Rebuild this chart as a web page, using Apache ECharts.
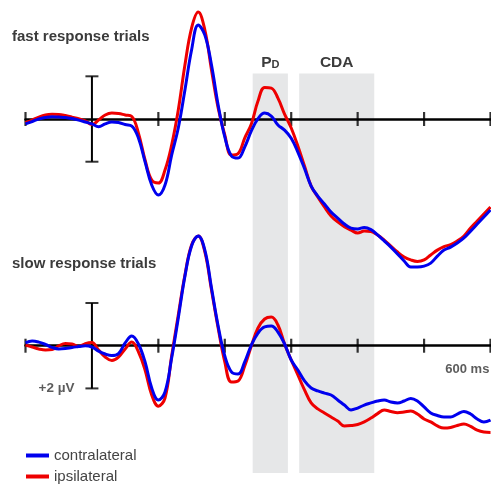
<!DOCTYPE html>
<html>
<head>
<meta charset="utf-8">
<script src="https://cdn.jsdelivr.net/npm/echarts@6/dist/echarts.min.js"></script>
<style>
html,body{margin:0;padding:0;background:#fff;}
#chart{width:491px;height:485px;}
</style>
</head>
<body>
<div id="chart"></div>
<script>
// time points (ms)
const TIMES = [-100,-90,-80,-70,-60,-50,-40,-30,-20,-10,0,10,20,30,40,50,60,70,80,90,100,110,120,130,140,150,160,170,180,190,200,210,220,230,240,250,260,270,280,290,300,310,320,330,340,350,360,370,380,390,400,410,420,430,440,450,460,470,480,490,500,510,520,530,540,550,560,570,580,590,600];

// fast response trials (µV, negative plotted up)
const FAST_IPSI = [0.17,0.05,-0.09,-0.19,-0.22,-0.21,-0.16,-0.09,-0.02,0.09,0.26,0.05,-0.19,-0.28,-0.26,-0.19,-0.12,0.66,1.92,2.86,3.00,2.39,1.22,-0.42,-2.53,-4.26,-5.01,-4.17,-2.30,-0.52,0.75,1.69,1.62,0.89,0.23,-0.84,-1.48,-1.45,-0.98,-0.23,0.42,1.26,2.20,3.14,3.65,4.12,4.54,4.82,5.04,5.20,5.34,5.25,5.27,5.43,5.67,5.95,6.23,6.46,6.60,6.67,6.60,6.37,6.14,5.98,5.88,5.71,5.48,5.11,4.78,4.45,4.12];
const FAST_CONTRA = [0.23,0.12,0,-0.07,-0.11,-0.09,-0.07,-0.02,0.05,0.14,0.23,0.36,0.23,0.14,0.16,0.26,0.33,0.89,2.01,3.09,3.56,3.09,1.69,0.42,-1.36,-3.23,-4.40,-3.93,-2.53,-0.66,0.84,1.73,1.83,1.31,0.56,-0.02,-0.28,-0.14,0.28,0.52,0.90,1.55,2.32,3.14,3.61,3.98,4.36,4.64,4.92,5.11,5.15,5.08,5.18,5.43,5.71,6.00,6.32,6.65,6.93,6.93,6.89,6.75,6.42,6.14,6.00,5.81,5.57,5.25,4.92,4.59,4.26];

// slow response trials
const SLOW_IPSI = [-0.03,0.06,0.15,0.20,0.18,0.01,-0.10,-0.08,0.04,-0.10,-0.15,0.20,0.53,0.69,0.53,0.15,-0.17,0.29,1.14,2.31,2.83,2.45,0.48,-1.44,-3.31,-4.72,-5.14,-4.39,-2.61,-0.83,0.76,1.70,1.65,0.95,0.01,-0.83,-1.25,-1.34,-0.97,-0.08,0.67,1.37,2.07,2.68,2.96,3.15,3.34,3.53,3.76,3.74,3.69,3.57,3.39,3.18,3.01,3.08,3.14,3.11,3.06,3.20,3.43,3.57,3.76,3.86,3.83,3.74,3.67,3.78,3.95,4.04,4.06];
const SLOW_CONTRA = [-0.13,-0.22,-0.17,-0.06,0.08,0.15,0.13,0.08,0.04,0,0.06,0.25,0.39,0.46,0.37,-0.13,-0.45,-0.08,0.76,1.98,2.54,2.17,0.58,-1.30,-3.26,-4.67,-5.14,-4.48,-2.70,-0.92,0.48,1.23,1.33,0.76,-0.03,-0.59,-0.88,-0.92,-0.64,-0.08,0.67,1.14,1.65,1.98,2.12,2.22,2.31,2.54,2.78,3.01,2.92,2.78,2.68,2.59,2.54,2.64,2.68,2.59,2.47,2.59,2.87,3.15,3.27,3.34,3.34,3.20,3.08,3.20,3.43,3.57,3.48];

const TICKS = [-100, 100, 200, 300, 400, 500, 600];
const SCALE_BAR = [-2, 2];          // µV
const PD_WINDOW = [242, 295];       // ms
const CDA_WINDOW = [312, 425];      // ms
const BAND_RANGE = [-2.13, 16.58];  // vertical extent in top-panel µV units

const FONT = "'Liberation Sans', Arial, sans-serif";
const BLUE = '#0000ee';
const RED = '#ee0000';

function pairs(vals) { return TIMES.map((t, i) => [t, vals[i]]); }

function lineSeries(name, vals, color, idx, extra) {
  return Object.assign({
    type: 'line', name: name, xAxisIndex: idx, yAxisIndex: idx,
    data: pairs(vals), smooth: 0.4, showSymbol: false, silent: true, z: 3,
    lineStyle: { color: color, width: 3 }, itemStyle: { color: color }
  }, extra || {});
}

function tickSeries(idx, lastLabel) {
  return {
    type: 'scatter', xAxisIndex: idx, yAxisIndex: idx, silent: true, z: 2,
    symbol: 'rect', symbolSize: [2.2, 14], itemStyle: { color: '#000' },
    data: TICKS.map((t, i) => {
      const item = { value: [t, 0] };
      if (lastLabel && i === TICKS.length - 1) {
        item.label = { show: true, formatter: lastLabel, position: [0, 31], align: 'right', verticalAlign: 'middle',
          fontFamily: FONT, fontWeight: 'bold', fontSize: 13, color: '#333' };
      }
      return item;
    })
  };
}

function barSeries(idx, withLabel) {
  return [
    { type: 'line', xAxisIndex: idx, yAxisIndex: idx, silent: true, z: 2, showSymbol: false,
      data: SCALE_BAR.map(v => [0, v]), lineStyle: { color: '#000', width: 2 } },
    { type: 'scatter', xAxisIndex: idx, yAxisIndex: idx, silent: true, z: 2,
      symbol: 'rect', symbolSize: [13, 2], itemStyle: { color: '#000' },
      data: SCALE_BAR.map((v, i) => {
        const item = { value: [0, v] };
        if (withLabel && i === SCALE_BAR.length - 1) {
          item.label = { show: true, formatter: '+' + v + ' µV', position: 'left', distance: 11,
            fontFamily: FONT, fontWeight: 'bold', fontSize: 13.5, color: '#333' };
        }
        return item;
      }) }
  ];
}

const labelStyle = { fontFamily: FONT, fontWeight: 'bold', color: '#3b3b3b' };

const option = {
  animation: false,
  backgroundColor: '#fff',
  title: [
    { text: 'fast response trials', left: 12, top: 29, padding: 0,
      textStyle: Object.assign({ fontSize: 15 }, labelStyle) },
    { text: 'slow response trials', left: 12, top: 256, padding: 0,
      textStyle: Object.assign({ fontSize: 15 }, labelStyle) }
  ],
  legend: {
    data: ['contralateral', 'ipsilateral'], orient: 'vertical', left: 26, top: 448, padding: 0,
    icon: 'rect', itemWidth: 23, itemHeight: 4, itemGap: 6,
    textStyle: { fontFamily: FONT, fontSize: 15, color: '#444' }
  },
  grid: [
    { left: 25.5, width: 465, top: 1.58, height: 480.4 },
    { left: 25.5, width: 465, top: 228.3, height: 245.5 }
  ],
  xAxis: [0, 1].map(i => ({
    type: 'value', gridIndex: i, min: -100, max: 600, z: 2,
    axisLine: { show: true, onZero: true, lineStyle: { color: '#000', width: 2.5 } },
    axisTick: { show: false }, axisLabel: { show: false }, splitLine: { show: false }
  })),
  yAxis: [
    { type: 'value', gridIndex: 0, min: -5.5, max: 17, inverse: true, show: false, splitLine: { show: false } },
    { type: 'value', gridIndex: 1, min: -5.5, max: 6, inverse: true, show: false, splitLine: { show: false } }
  ],
  series: [
    lineSeries('ipsilateral', FAST_IPSI, RED, 0, {
      markArea: {
        silent: true, z: 1,
        itemStyle: { color: '#e6e7e8' },
        label: { show: true, position: 'top', distance: 3 },
        data: [
          [ { xAxis: PD_WINDOW[0], yAxis: BAND_RANGE[0], name: 'PD',
              label: { formatter: '{p|P}{d|D}', rich: {
                p: Object.assign({ fontSize: 15.5, verticalAlign: 'bottom', lineHeight: 17 }, labelStyle),
                d: Object.assign({ fontSize: 11, verticalAlign: 'bottom', lineHeight: 15 }, labelStyle) } } },
            { xAxis: PD_WINDOW[1], yAxis: BAND_RANGE[1] } ],
          [ { xAxis: CDA_WINDOW[0], yAxis: BAND_RANGE[0], name: 'CDA',
              label: Object.assign({ formatter: 'CDA', fontSize: 15.5 }, labelStyle) },
            { xAxis: CDA_WINDOW[1], yAxis: BAND_RANGE[1] } ]
        ]
      }
    }),
    lineSeries('contralateral', FAST_CONTRA, BLUE, 0),
    lineSeries('ipsilateral', SLOW_IPSI, RED, 1),
    lineSeries('contralateral', SLOW_CONTRA, BLUE, 1),
    tickSeries(0, null),
    tickSeries(1, '600 ms'),
    ...barSeries(0, false),
    ...barSeries(1, true)
  ]
};

const chart = echarts.init(document.getElementById('chart'), null, { renderer: 'canvas' });
chart.setOption(option);
</script>
</body>
</html>
